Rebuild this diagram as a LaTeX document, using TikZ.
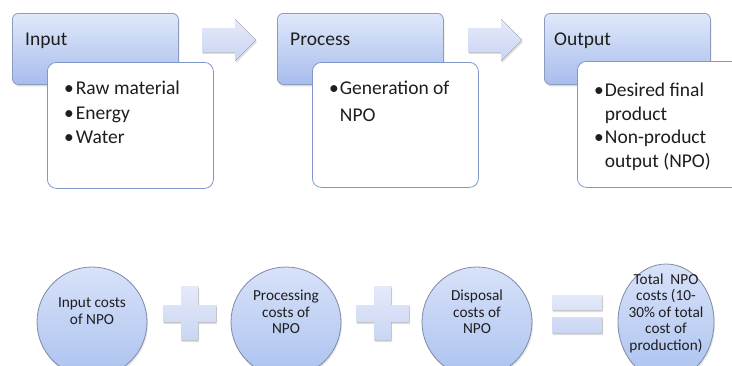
\documentclass[tikz,border=0pt]{standalone}
\usepackage{fontspec}
\setmainfont{Carlito}
\usepackage{tikz}
\usetikzlibrary{shapes.geometric,shadows,positioning}

\definecolor{headtop}{HTML}{E0E8FA}
\definecolor{headbot}{HTML}{A7BDEC}
\definecolor{headline}{HTML}{8C9CBC}
\definecolor{boxline}{HTML}{7F97C9}
\definecolor{signtop}{HTML}{E4EAF9}
\definecolor{signbot}{HTML}{C9D5F3}
\definecolor{circtop}{HTML}{D8E2F9}
\definecolor{circbot}{HTML}{ABC2EF}
\definecolor{circline}{HTML}{7E8AA6}
\definecolor{txt}{HTML}{1E1E1E}

\tikzset{
  head/.style={draw=headline, line width=0.8pt, rounded corners=6pt,
    top color=headtop, bottom color=headbot, anchor=north west,
    minimum width=166pt, minimum height=71pt, inner sep=0pt,
    drop shadow={opacity=0.3, shadow xshift=1pt, shadow yshift=-2pt}},
  detail/.style={draw=boxline, line width=0.8pt, fill=white, rounded corners=9pt,
    anchor=north west, minimum width=166pt, minimum height=126pt, inner sep=0pt},
  headtext/.style={anchor=base west, inner sep=0pt, text=txt,
    font=\fontsize{19.5}{24}\selectfont},
  itemtext/.style={anchor=north west, align=left, inner sep=0pt, text=txt,
    font=\fontsize{19.5}{24.5}\selectfont},
  cost/.style={circle, draw=circline, line width=0.8pt, minimum size=110pt, inner sep=0pt,
    top color=circtop, bottom color=circbot,
    drop shadow={opacity=0.2, shadow xshift=1pt, shadow yshift=-2pt}},
  costtext/.style={align=center, inner sep=0pt, text=txt,
    font=\fontsize{15.3}{16.5}\selectfont},
  sign/.style={top color=signtop, bottom color=signbot,
    drop shadow={opacity=0.25, shadow xshift=1pt, shadow yshift=-2pt}}
}

\begin{document}
\begin{tikzpicture}[x=1pt, y=-1pt]
  \clip (0,0) rectangle (732,365);
  \useasboundingbox (0,0) rectangle (732,365);

  % top row
  \node[head] (inhead) at (12,13) {};
  \node[detail] (indet) at (47,62) {};
  \node[headtext] (inlbl) at (25,45) {Input};
  \node[itemtext] (initems) at (64,81) {•\kern2pt Raw material\\•\kern2pt Energy\\•\kern2pt Water};

  \node[head] (prochead) at (277,13) {};
  \node[detail, minimum height=125pt] (procdet) at (312,62) {};
  \node[headtext] (proclbl) at (290,45) {Process};
  \node[itemtext, font=\fontsize{19.5}{27}\selectfont] (procitems) at (329,81)
    {•\kern1pt Generation of\\\hphantom{•\kern1pt}NPO};

  \node[head] (outhead) at (544,13) {};
  \node[detail] (outdet) at (577,61) {};
  \node[headtext] (outlbl) at (554,45) {Output};
  \node[itemtext, font=\fontsize{19.5}{23.5}\selectfont] (outitems) at (594,83)
    {•\kern1pt Desired final\\\hphantom{•\kern1pt}product\\•\kern1pt Non-product\\\hphantom{•\kern1pt}output (NPO)};

  % block arrows between the steps
  \fill[sign] (202,28) -- (235,28) -- (235,19) -- (256,40) -- (235,61) -- (235,52) -- (202,52) -- cycle;
  \fill[sign] (468,28) -- (501,28) -- (501,19) -- (522,40) -- (501,61) -- (501,52) -- (468,52) -- cycle;

  % bottom row
  \node[cost] (costin) at (92,322) {};
  \node[cost] (costproc) at (286,322) {};
  \node[cost] (costdisp) at (477,322) {};
  \node[cost, ellipse, minimum width=96pt, minimum height=116pt] (costtotal) at (666,322) {};

  \node[costtext] (intxt) at (92,311) {Input costs\\of NPO};
  \node[costtext] (proctxt) at (286,312) {Processing\\costs of\\NPO};
  \node[costtext] (disptxt) at (477,312) {Disposal\\costs of\\NPO};
  \node[costtext] (totaltxt) at (666,313) {Total~ NPO\\costs (10-\\30\% of total\\cost of\\production)};

  \fill[sign] (181,286) rectangle (198,340) (163,305) rectangle (216,322);
  \fill[sign] (374,286) rectangle (391,340) (356,305) rectangle (409,322);
  \fill[sign] (552,295) rectangle (602,310) (552,317) rectangle (602,333);
\end{tikzpicture}
\end{document}
